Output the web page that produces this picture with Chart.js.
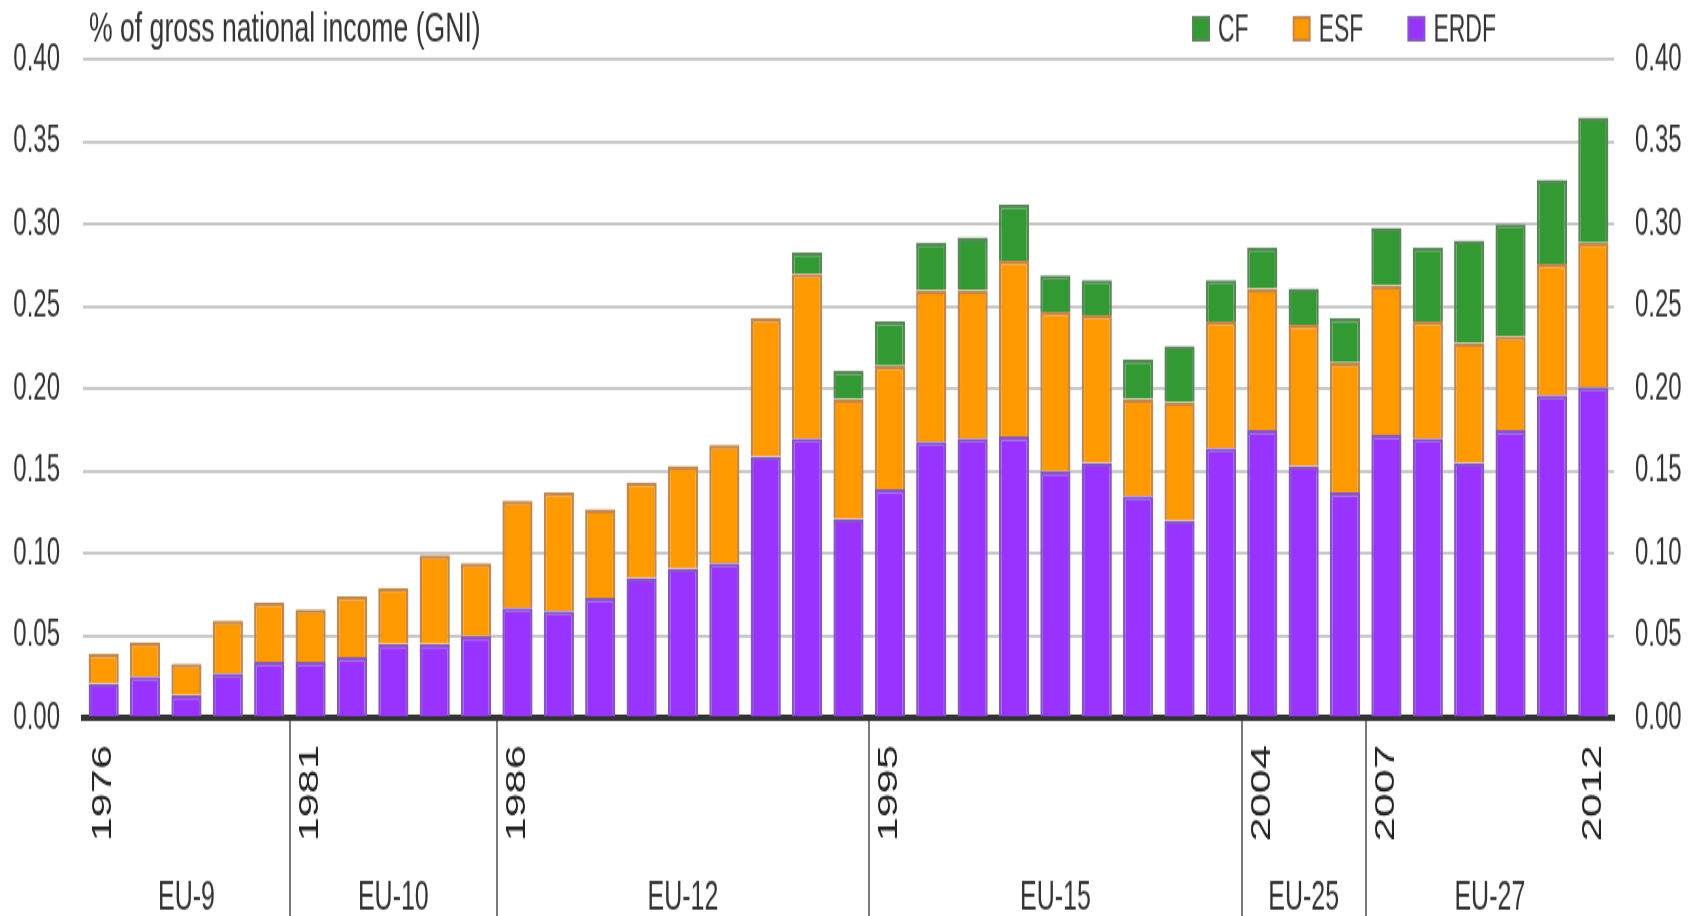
<!DOCTYPE html>
<html>
<head>
<meta charset="utf-8">
<script src="https://cdn.jsdelivr.net/npm/chart.js@4/dist/chart.umd.min.js"></script>
<style>
  html, body { margin: 0; padding: 0; background: #fff; overflow: hidden; }
  /* the source picture is stretched vertically, so the chart is drawn flat and scaled */
  #wrap { position: absolute; left: 0; top: 0; width: 1698px; height: 573px;
          transform: scaleY(1.5986); transform-origin: 0 0; }
</style>
</head>
<body>
<div id="wrap"><canvas id="chart"></canvas></div>
<script>
const years = ['1976', '1977', '1978', '1979', '1980', '1981', '1982', '1983', '1984', '1985',
  '1986', '1987', '1988', '1989', '1990', '1991', '1992', '1993', '1994', '1995',
  '1996', '1997', '1998', '1999', '2000', '2001', '2002', '2003', '2004', '2005',
  '2006', '2007', '2008', '2009', '2010', '2011', '2012'];
const shownYears = ['1976', '1981', '1986', '1995', '2004', '2007', '2012'];

const erdf = [0.021, 0.025, 0.014, 0.027, 0.034, 0.034, 0.037, 0.045, 0.045, 0.050,
  0.067, 0.065, 0.073, 0.085, 0.091, 0.094, 0.159, 0.170, 0.121, 0.139,
  0.168, 0.170, 0.171, 0.150, 0.155, 0.135, 0.120, 0.164, 0.175, 0.153,
  0.137, 0.172, 0.170, 0.155, 0.175, 0.196, 0.201];
const esf = [0.018, 0.021, 0.019, 0.032, 0.036, 0.032, 0.037, 0.034, 0.054, 0.044,
  0.065, 0.072, 0.054, 0.058, 0.062, 0.072, 0.084, 0.100, 0.073, 0.075,
  0.092, 0.090, 0.107, 0.097, 0.090, 0.059, 0.072, 0.077, 0.086, 0.086,
  0.079, 0.091, 0.071, 0.073, 0.057, 0.080, 0.088];
const cf = [0, 0, 0, 0, 0, 0, 0, 0, 0, 0,
  0, 0, 0, 0, 0, 0, 0, 0.013, 0.017, 0.027,
  0.029, 0.032, 0.034, 0.022, 0.021, 0.024, 0.034, 0.025, 0.025, 0.022,
  0.027, 0.035, 0.045, 0.062, 0.068, 0.051, 0.076];

const groupNames = ['EU-9', 'EU-10', 'EU-12', 'EU-15', 'EU-25', 'EU-27'];
const groupStarts = ['1976', '1981', '1986', '1995', '2004', '2007'];

const yTicks = [0, 0.05, 0.10, 0.15, 0.20, 0.25, 0.30, 0.35, 0.40];
const yTitle = '% of gross national income (GNI)';

const FONT = '"Liberation Sans", Arial, sans-serif';
const TEXT = '#333333';
const H = 573;

const decor = {
  id: 'decor',
  afterDraw(chart) {
    const ctx = chart.ctx;
    const area = chart.chartArea;
    const x = chart.scales.x;
    const step = x.getPixelForValue(1) - x.getPixelForValue(0);
    ctx.save();

    // period separators and group names
    ctx.font = '25px ' + FONT;
    ctx.fillStyle = TEXT;
    ctx.textAlign = 'center';
    ctx.textBaseline = 'alphabetic';
    groupStarts.forEach((start, i) => {
      const first = years.indexOf(start);
      const last = i < groupStarts.length - 1 ? years.indexOf(groupStarts[i + 1]) - 1 : years.length - 1;
      if (i > 0) {
        const px = Math.round(x.getPixelForValue(first) - step / 2);
        ctx.strokeStyle = '#7a7a7a';
        ctx.lineWidth = 2;
        ctx.beginPath();
        ctx.moveTo(px, area.bottom + 2);
        ctx.lineTo(px, H);
        ctx.stroke();
      }
      const mid = (x.getPixelForValue(first) + x.getPixelForValue(last)) / 2;
      ctx.fillText(groupNames[i], mid, 569);
    });

    // unit title
    ctx.textAlign = 'left';
    ctx.font = '26.6px ' + FONT;
    ctx.fillText(yTitle, 89, 26);

    // legend, in the picture's order
    ctx.font = '23px ' + FONT;
    let lx = 1192;
    [2, 1, 0].forEach(di => {
      const ds = chart.data.datasets[di];
      ctx.fillStyle = ds.borderColor;
      ctx.fillRect(lx, 10, 18, 16);
      ctx.fillStyle = ds.backgroundColor;
      ctx.fillRect(lx + 2, 12, 14, 12);
      ctx.fillStyle = TEXT;
      ctx.fillText(ds.label, lx + 26, 26);
      lx += 26 + ctx.measureText(ds.label).width + 44;
    });
    ctx.restore();
  }
};

new Chart(document.getElementById('chart'), {
  type: 'bar',
  plugins: [decor],
  data: {
    labels: years,
    datasets: [{
      label: 'ERDF',
      data: erdf,
      backgroundColor: '#9933FF',
      borderColor: '#8656c4',
      borderWidth: 2.5,
    },
    {
      label: 'ESF',
      data: esf,
      backgroundColor: '#FF9900',
      borderColor: '#c4884c',
      borderWidth: 2.5,
    },
    {
      label: 'CF',
      data: cf,
      backgroundColor: '#339933',
      borderColor: '#588858',
      borderWidth: 2.5,
    }]
  },
  options: {
    responsive: true,
    maintainAspectRatio: false,
    animation: false,
    layout: {
      padding: { top: 35.7, left: 0, right: 0, bottom: 0 }
    },
    datasets: {
      bar: {
        barPercentage: 0.73,
        categoryPercentage: 1,
      }
    },
    plugins: {
      legend: { display: false },
      title: { display: false },
      tooltip: { enabled: false },
    },
    scales: {
      x: {
        stacked: true,
        offset: true,
        grid: { display: false, drawTicks: false },
        border: { display: true, color: '#333333', width: 4 },
        ticks: {
          autoSkip: false,
          minRotation: 90,
          maxRotation: 90,
          padding: 17,
          color: '#222222',
          font: { family: FONT, size: 27 },
          callback: function (value, index) {
            return shownYears.includes(years[index]) ? years[index] : '';
          }
        },
        afterFit: function (scale) {
          scale.height = H - 449.1;
        }
      },
      y: {
        stacked: true,
        min: 0,
        max: 0.4,
        afterBuildTicks: function (scale) {
          scale.ticks = yTicks.map(v => ({ value: v }));
        },
        grid: { color: '#c8c8c8', lineWidth: 2, drawTicks: false },
        border: { display: false },
        ticks: {
          padding: 23,
          color: TEXT,
          font: { family: FONT, size: 24 },
          callback: v => v.toFixed(2)
        },
        afterFit: function (scale) {
          scale.width = 83;
        }
      },
      y2: {
        position: 'right',
        min: 0,
        max: 0.4,
        afterBuildTicks: function (scale) {
          scale.ticks = yTicks.map(v => ({ value: v }));
        },
        grid: { display: false, drawTicks: false },
        border: { display: false },
        ticks: {
          padding: 21,
          color: TEXT,
          font: { family: FONT, size: 24 },
          callback: v => v.toFixed(2)
        },
        afterFit: function (scale) {
          scale.width = 84;
        }
      }
    }
  }
});
</script>
</body>
</html>
